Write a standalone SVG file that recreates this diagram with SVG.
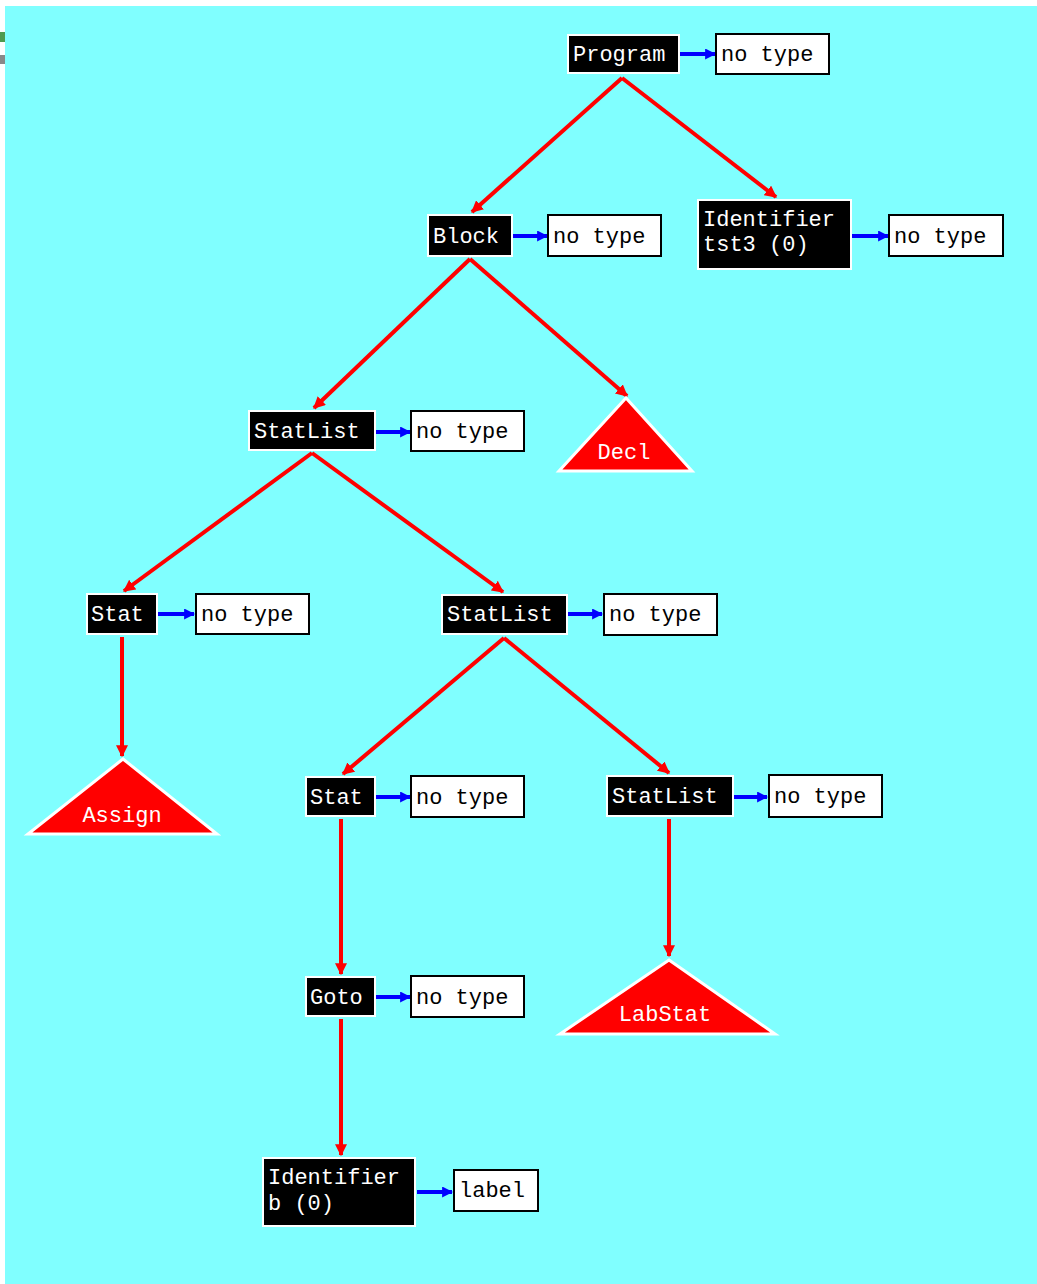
<svg xmlns="http://www.w3.org/2000/svg" width="1037" height="1284" viewBox="0 0 1037 1284">
<defs>
<style>
.bg{fill:#80FFFF}
.n rect{fill:#000;stroke:#fff;stroke-width:2}
.n text{fill:#fff;font-family:"Liberation Mono","DejaVu Sans Mono",monospace;font-size:22px}
.t rect{fill:#fff;stroke:#000;stroke-width:2}
.t text{fill:#000;font-family:"Liberation Mono","DejaVu Sans Mono",monospace;font-size:22px}
.tri polygon{fill:#f00;stroke:#fff;stroke-width:3;stroke-linejoin:miter}
.tri text{fill:#fff;font-family:"Liberation Mono","DejaVu Sans Mono",monospace;font-size:22px;text-anchor:middle}
.re{stroke:#f00;stroke-width:4;fill:none;marker-end:url(#ar)}
.be{stroke:#00f;stroke-width:4;fill:none;marker-end:url(#ab)}
</style>
<marker id="ar" viewBox="0 0 10 10" refX="9" refY="5" markerWidth="12" markerHeight="12" markerUnits="userSpaceOnUse" orient="auto"><path d="M0,0 L10,5 L0,10 z" fill="#f00"/></marker>
<marker id="ab" viewBox="0 0 10 10" refX="9" refY="5" markerWidth="11" markerHeight="11" markerUnits="userSpaceOnUse" orient="auto"><path d="M0,0 L10,5 L0,10 z" fill="#00f"/></marker>
</defs>
<rect x="0" y="0" width="1037" height="1284" fill="#fff"/>
<rect class="bg" x="5" y="6" width="1032" height="1278"/>
<rect x="0" y="32" width="5" height="10" fill="#4f9a4f"/>
<rect x="0" y="55" width="5" height="9" fill="#888"/>

<g id="connectors">
<line class="re" x1="622" y1="78" x2="472" y2="212"/>
<line class="re" x1="622" y1="78" x2="776" y2="197"/>
<line class="re" x1="470" y1="259" x2="314" y2="408"/>
<line class="re" x1="470" y1="259" x2="627" y2="396"/>
<line class="re" x1="312" y1="453" x2="124" y2="591"/>
<line class="re" x1="312" y1="453" x2="503" y2="592"/>
<line class="re" x1="122" y1="637" x2="122" y2="756"/>
<line class="re" x1="504" y1="638" x2="343" y2="774"/>
<line class="re" x1="504" y1="638" x2="669" y2="773"/>
<line class="re" x1="341" y1="819" x2="341" y2="974"/>
<line class="re" x1="669" y1="819" x2="669" y2="956"/>
<line class="re" x1="341" y1="1019" x2="341" y2="1155"/>
<line class="be" x1="680" y1="54" x2="715" y2="54"/>
<line class="be" x1="513" y1="236" x2="547" y2="236"/>
<line class="be" x1="852" y1="236" x2="888" y2="236"/>
<line class="be" x1="376" y1="432" x2="410" y2="432"/>
<line class="be" x1="158" y1="614" x2="194" y2="614"/>
<line class="be" x1="568" y1="614" x2="602" y2="614"/>
<line class="be" x1="376" y1="797" x2="410" y2="797"/>
<line class="be" x1="734" y1="797" x2="767" y2="797"/>
<line class="be" x1="376" y1="997" x2="410" y2="997"/>
<line class="be" x1="417" y1="1192" x2="452" y2="1192"/>
</g>

<g id="program" class="n"><rect x="568" y="35" width="111" height="38"/><text x="573" y="61">Program</text></g>
<g id="program-type" class="t"><rect x="716" y="34" width="113" height="40"/><text x="721" y="61">no type</text></g>

<g id="block" class="n"><rect x="428" y="215" width="84" height="41"/><text x="433" y="243">Block</text></g>
<g id="block-type" class="t"><rect x="548" y="215" width="113" height="41"/><text x="553" y="243">no type</text></g>

<g id="identifier-tst3" class="n"><rect x="698" y="200" width="153" height="69"/><text x="703" y="226">Identifier</text><text x="703" y="251">tst3 (0)</text></g>
<g id="identifier-tst3-type" class="t"><rect x="889" y="215" width="114" height="41"/><text x="894" y="243">no type</text></g>

<g id="statlist1" class="n"><rect x="249" y="411" width="126" height="39"/><text x="254" y="438">StatList</text></g>
<g id="statlist1-type" class="t"><rect x="411" y="411" width="113" height="40"/><text x="416" y="438">no type</text></g>

<g id="decl" class="tri"><polygon points="626,398 692,471 559,471"/><text x="624" y="459">Decl</text></g>

<g id="stat1" class="n"><rect x="87" y="594" width="70" height="40"/><text x="91" y="621">Stat</text></g>
<g id="stat1-type" class="t"><rect x="196" y="594" width="113" height="40"/><text x="201" y="621">no type</text></g>

<g id="assign" class="tri"><polygon points="123,759 217,834 28,834"/><text x="122" y="822">Assign</text></g>

<g id="statlist2" class="n"><rect x="442" y="595" width="125" height="39"/><text x="447" y="621">StatList</text></g>
<g id="statlist2-type" class="t"><rect x="604" y="594" width="113" height="41"/><text x="609" y="621">no type</text></g>

<g id="stat2" class="n"><rect x="306" y="777" width="69" height="39"/><text x="310" y="804">Stat</text></g>
<g id="stat2-type" class="t"><rect x="411" y="776" width="113" height="41"/><text x="416" y="804">no type</text></g>

<g id="statlist3" class="n"><rect x="607" y="776" width="126" height="40"/><text x="612" y="803">StatList</text></g>
<g id="statlist3-type" class="t"><rect x="769" y="775" width="113" height="42"/><text x="774" y="803">no type</text></g>

<g id="goto" class="n"><rect x="306" y="977" width="69" height="39"/><text x="310" y="1004">Goto</text></g>
<g id="goto-type" class="t"><rect x="411" y="976" width="113" height="41"/><text x="416" y="1004">no type</text></g>

<g id="labstat" class="tri"><polygon points="669,960 775,1034 560,1034"/><text x="665" y="1021">LabStat</text></g>

<g id="identifier-b" class="n"><rect x="263" y="1158" width="152" height="68"/><text x="268" y="1184">Identifier</text><text x="268" y="1210">b (0)</text></g>
<g id="identifier-b-type" class="t"><rect x="454" y="1170" width="84" height="41"/><text x="459" y="1197">label</text></g>
</svg>
